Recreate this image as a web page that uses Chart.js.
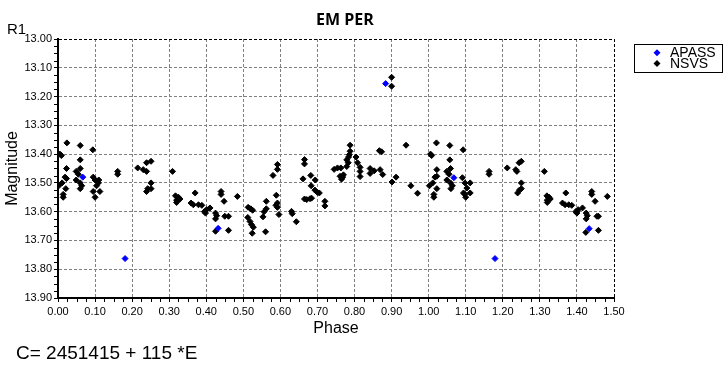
<!DOCTYPE html>
<html>
<head>
<meta charset="utf-8">
<script src="https://cdn.jsdelivr.net/npm/chart.js@4.4.1/dist/chart.umd.min.js"></script>
<style>
html,body{margin:0;padding:0;background:#fff;}
#wrap{width:728px;height:373px;position:relative;}
</style>
</head>
<body>
<div id="wrap"><canvas id="c" width="728" height="373"></canvas></div>
<script>
// ---- data (phase, magnitude) ----
const seriesNames = ["APASS", "NSVS"];
const seriesColors = ["#0000FF", "#000000"];

const apass = [
  [0.067,13.480],[0.181,13.763],[0.432,13.658],[0.884,13.155],
  [1.068,13.482],[1.179,13.763],[1.433,13.659]
];

const nsvsA = [
  [0.005,13.400],[0.009,13.405],[0.002,13.510],[0.011,13.500],[0.014,13.540],[0.014,13.550],
  [0.024,13.361],[0.023,13.450],[0.019,13.480],[0.021,13.520],[0.023,13.485],[0.049,13.460],
  [0.049,13.490],[0.055,13.470],[0.060,13.450],[0.060,13.370],[0.060,13.420],[0.060,13.500],
  [0.064,13.510],[0.060,13.520],[0.094,13.385],[0.095,13.480],[0.100,13.490],[0.095,13.530],
  [0.100,13.550],[0.109,13.500],[0.113,13.530],[0.104,13.510],[0.110,13.490],[0.161,13.460],
  [0.161,13.470],[0.215,13.448],[0.230,13.454],[0.239,13.460],[0.239,13.430],[0.251,13.425],
  [0.239,13.530],[0.242,13.520],[0.251,13.500],[0.251,13.520],[0.309,13.460],[0.317,13.545],
  [0.320,13.560],[0.325,13.550],[0.329,13.556],[0.320,13.568],[0.370,13.535],[0.359,13.570],
  [0.365,13.576],[0.379,13.576],[0.388,13.578],[0.395,13.600],[0.401,13.593],[0.410,13.587],
  [0.398,13.605],[0.425,13.605],[0.428,13.614],[0.425,13.625],[0.425,13.668],[0.440,13.530],
  [0.440,13.540],[0.448,13.564],[0.450,13.616],[0.460,13.616],[0.460,13.665],[0.484,13.547]
];

const nsvsB = [
  [0.513,13.585],[0.520,13.590],[0.525,13.595],[0.512,13.620],[0.518,13.634],[0.522,13.645],
  [0.527,13.654],[0.524,13.675],[0.553,13.618],[0.556,13.600],[0.562,13.590],[0.562,13.564],
  [0.560,13.670],[0.580,13.474],[0.592,13.453],[0.592,13.436],[0.589,13.543],[0.588,13.578],
  [0.592,13.585],[0.592,13.570],[0.596,13.610],[0.630,13.599],[0.632,13.607],[0.643,13.635],
  [0.661,13.486],[0.665,13.419],[0.665,13.434],[0.665,13.556],[0.671,13.558],[0.680,13.555],
  [0.684,13.553],[0.682,13.474],[0.683,13.510],[0.694,13.490],[0.693,13.525],[0.700,13.533],
  [0.705,13.535],[0.720,13.564],[0.720,13.580],[0.745,13.453],[0.754,13.448],[0.763,13.448],
  [0.761,13.477],[0.765,13.487],[0.768,13.480],[0.770,13.472],[0.779,13.443],[0.783,13.430],
  [0.786,13.402],[0.788,13.390],[0.788,13.369],[0.784,13.410],[0.779,13.420],[0.804,13.410],
  [0.808,13.430],[0.815,13.446],[0.815,13.460],[0.815,13.478],[0.842,13.450],[0.842,13.467],
  [0.853,13.458],[0.867,13.388],[0.873,13.392],[0.869,13.454],[0.876,13.471],[0.900,13.133],
  [0.900,13.164],[0.901,13.497],[0.912,13.480],[0.939,13.369],[0.952,13.510],[0.970,13.536]
];

const nsvsC = [
  [1.005,13.400],[1.008,13.405],[1.002,13.510],[1.011,13.500],[1.014,13.540],[1.014,13.550],
  [1.021,13.361],[1.022,13.454],[1.017,13.480],[1.022,13.520],[1.022,13.477],[1.049,13.460],
  [1.049,13.490],[1.055,13.470],[1.059,13.450],[1.057,13.370],[1.057,13.420],[1.059,13.500],
  [1.064,13.510],[1.060,13.520],[1.093,13.385],[1.091,13.482],[1.098,13.500],[1.094,13.535],
  [1.100,13.550],[1.112,13.500],[1.112,13.535],[1.103,13.518],[1.098,13.540],[1.163,13.460],
  [1.163,13.470],[1.212,13.448],[1.235,13.454],[1.238,13.460],[1.244,13.430],[1.250,13.425],
  [1.240,13.535],[1.245,13.525],[1.250,13.500],[1.250,13.520],[1.312,13.460],[1.319,13.545],
  [1.320,13.560],[1.325,13.550],[1.328,13.556],[1.320,13.568],[1.370,13.535],[1.361,13.570],
  [1.368,13.576],[1.378,13.576],[1.386,13.578],[1.397,13.600],[1.403,13.593],[1.415,13.587],
  [1.400,13.605],[1.425,13.605],[1.428,13.614],[1.425,13.625],[1.424,13.672],[1.440,13.530],
  [1.440,13.540],[1.449,13.564],[1.454,13.616],[1.458,13.616],[1.458,13.665],[1.482,13.547]
];

const xTickValues = [0.00,0.10,0.20,0.30,0.40,0.50,0.60,0.70,0.80,0.90,1.00,1.10,1.20,1.30,1.40,1.50];
const yTickValues = [13.00,13.10,13.20,13.30,13.40,13.50,13.60,13.70,13.80,13.90];

const chartTitle = "EM PER";
const yAxisTitle = "Magnitude";
const xAxisTitle = "Phase";
const filterLabel = "R1";
const ephemeris = "C= 2451415 + 115 *E";

// ---- build ----
const toPts = arr => arr.map(p => ({x: p[0], y: p[1]}));
const nsvsAll = nsvsA.concat(nsvsB, nsvsC);

const FONT = '"Liberation Sans", Arial, sans-serif';

const decorPlugin = {
  id: 'decor',
  afterDraw(chart) {
    const ctx = chart.ctx;
    const xs = chart.scales.x, ys = chart.scales.y;
    const area = chart.chartArea;
    ctx.save();
    // minor ticks
    ctx.strokeStyle = '#000';
    ctx.lineWidth = 1;
    ctx.beginPath();
    for (let i = 0; i < xTickValues.length - 1; i++) {
      const a = xTickValues[i], b = xTickValues[i+1];
      for (let k = 1; k < 4; k++) {
        const px = Math.round(xs.getPixelForValue(a + (b - a) * k / 4)) + 0.5;
        ctx.moveTo(px, area.bottom + 1);
        ctx.lineTo(px, area.bottom + 4);
      }
    }
    for (let i = 0; i < yTickValues.length - 1; i++) {
      const a = yTickValues[i], b = yTickValues[i+1];
      for (let k = 1; k < 4; k++) {
        const py = Math.round(ys.getPixelForValue(a + (b - a) * k / 4)) + 0.5;
        ctx.moveTo(area.left - 1, py);
        ctx.lineTo(area.left - 4, py);
      }
    }
    ctx.stroke();

    ctx.fillStyle = '#000';
    // title
    ctx.font = 'bold 16px "Open Sans", sans-serif';
    ctx.textAlign = 'center';
    ctx.textBaseline = 'middle';
    ctx.fillText(chartTitle, 345, 20);
    // R1
    ctx.font = '15px ' + FONT;
    ctx.textAlign = 'left';
    ctx.fillText(filterLabel, 7, 30);
    // x title
    ctx.font = '16px ' + FONT;
    ctx.textAlign = 'center';
    ctx.fillText(xAxisTitle, (area.left + area.right) / 2, 329);
    // y title
    ctx.save();
    ctx.translate(13, (area.top + area.bottom) / 2);
    ctx.rotate(-Math.PI / 2);
    ctx.fillText(yAxisTitle, 0, 0);
    ctx.restore();
    // ephemeris
    ctx.font = '19px ' + FONT;
    ctx.textAlign = 'left';
    ctx.fillText(ephemeris, 16, 354);
    // legend
    ctx.strokeStyle = '#000';
    ctx.lineWidth = 1;
    ctx.strokeRect(634.5, 44.5, 88, 28);
    ctx.font = '14px ' + FONT;
    const rows = [52.7, 63.5];
    for (let i = 0; i < 2; i++) {
      const cy = rows[i], cx = 657, r = 3.5;
      ctx.fillStyle = seriesColors[i];
      ctx.beginPath();
      ctx.moveTo(cx, cy - r); ctx.lineTo(cx + r, cy); ctx.lineTo(cx, cy + r); ctx.lineTo(cx - r, cy);
      ctx.closePath(); ctx.fill();
      ctx.fillStyle = '#000';
      ctx.fillText(seriesNames[i], 670, cy + 0.5);
    }
    ctx.restore();
  }
};

new Chart(document.getElementById('c'), {
  type: 'scatter',
  data: {
    datasets: [
      { label: seriesNames[0], data: toPts(apass), backgroundColor: seriesColors[0], borderColor: seriesColors[0],
        pointStyle: 'rectRot', pointRadius: 3, borderWidth: 1, pointHoverRadius: 3 },
      { label: seriesNames[1], data: toPts(nsvsAll), backgroundColor: seriesColors[1], borderColor: seriesColors[1],
        pointStyle: 'rectRot', pointRadius: 3, borderWidth: 1, pointHoverRadius: 3 }
    ]
  },
  options: {
    responsive: false,
    animation: false,
    devicePixelRatio: 1,
    layout: { padding: { left: 0, right: 114, top: 39, bottom: 0 } },
    plugins: { legend: { display: false }, title: { display: false }, tooltip: { enabled: false } },
    scales: {
      x: {
        type: 'linear', min: xTickValues[0], max: xTickValues[xTickValues.length - 1],
        afterFit(s) { s.height = 75; },
        afterBuildTicks(s) { s.ticks = xTickValues.map(v => ({value: v})); },
        ticks: { callback: v => Number(v).toFixed(2), font: { family: FONT, size: 11 }, color: '#000',
                 padding: 3, maxRotation: 0, autoSkip: false },
        grid: { color: c => (c.tick && Math.abs(c.tick.value - 1.5) < 1e-6) ? '#000' : '#808080',
                lineWidth: 1, tickLength: 4, tickColor: '#000', tickWidth: 1 },
        border: { display: true, color: '#000', width: 2, dash: [3, 2] }
      },
      y: {
        type: 'linear', reverse: true, min: yTickValues[0], max: yTickValues[yTickValues.length - 1],
        afterFit(s) { s.width = 58; },
        afterBuildTicks(s) { s.ticks = yTickValues.map(v => ({value: v})); },
        ticks: { callback: v => Number(v).toFixed(2), font: { family: FONT, size: 11 }, color: '#000',
                 padding: 2, autoSkip: false },
        grid: { color: c => (c.tick && Math.abs(c.tick.value - 13.0) < 1e-6) ? '#000' : '#808080',
                lineWidth: 1, tickLength: 4, tickColor: '#000', tickWidth: 1 },
        border: { display: true, color: '#000', width: 2, dash: [3, 2] }
      }
    }
  },
  plugins: [decorPlugin]
});
</script>
</body>
</html>
